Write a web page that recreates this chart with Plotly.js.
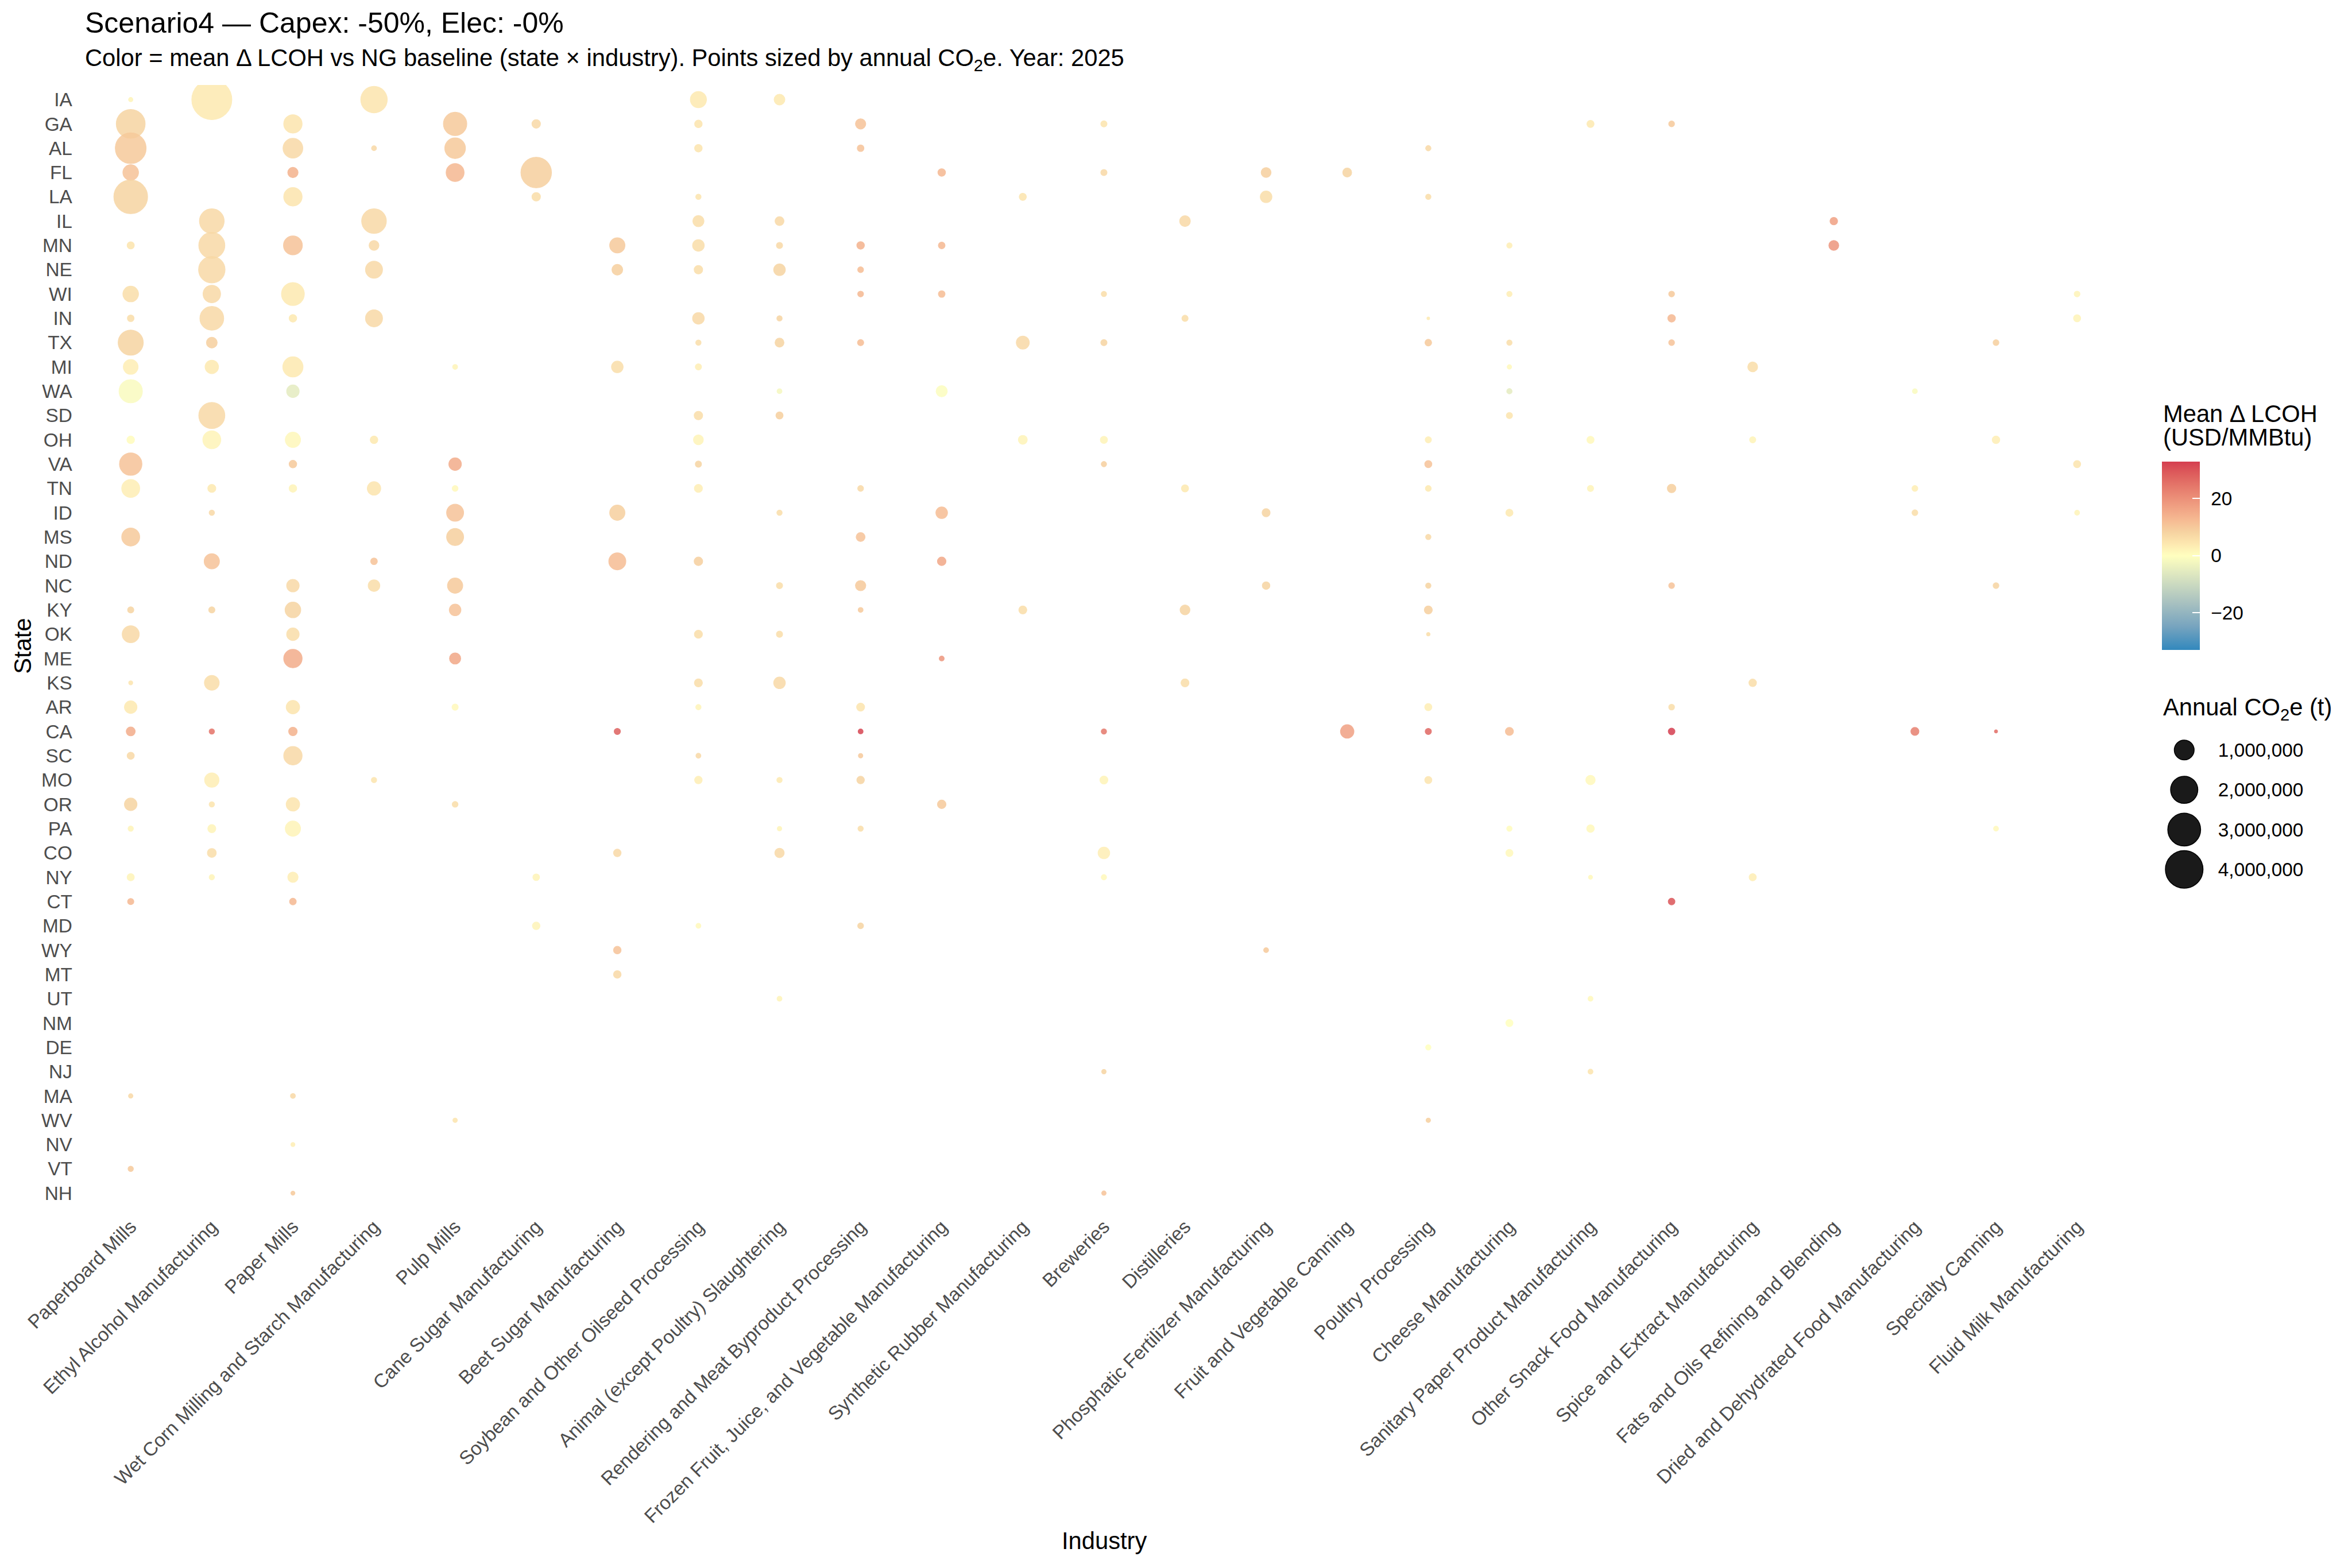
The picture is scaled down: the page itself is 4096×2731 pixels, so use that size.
<!DOCTYPE html>
<html>
<head>
<meta charset="utf-8">
<script src="https://cdn.plot.ly/plotly-3.0.1.min.js"></script>
<style>
html,body{margin:0;padding:0;background:#ffffff;}
#chart{width:4096px;height:2731px;}
</style>
</head>
<body>
<div id="chart"></div>
<script>
// ---------------- DATA ----------------
const states = ['IA','GA','AL','FL','LA','IL','MN','NE','WI','IN','TX','MI','WA','SD','OH','VA','TN','ID','MS','ND','NC','KY','OK','ME','KS','AR','CA','SC','MO','OR','PA','CO','NY','CT','MD','WY','MT','UT','NM','DE','NJ','MA','WV','NV','VT','NH'];

const industries = ['Paperboard Mills','Ethyl Alcohol Manufacturing','Paper Mills','Wet Corn Milling and Starch Manufacturing','Pulp Mills','Cane Sugar Manufacturing','Beet Sugar Manufacturing','Soybean and Other Oilseed Processing','Animal (except Poultry) Slaughtering','Rendering and Meat Byproduct Processing','Frozen Fruit, Juice, and Vegetable Manufacturing','Synthetic Rubber Manufacturing','Breweries','Distilleries','Phosphatic Fertilizer Manufacturing','Fruit and Vegetable Canning','Poultry Processing','Cheese Manufacturing','Sanitary Paper Product Manufacturing','Other Snack Food Manufacturing','Spice and Extract Manufacturing','Fats and Oils Refining and Blending','Dried and Dehydrated Food Manufacturing','Specialty Canning','Fluid Milk Manufacturing'];

// index into industries
const pointIndustry = [
 0,0,0,0,0,0,0,0,0,0,0,0,0,0,0,0,0,0,0,0,0,0,0,0,0,0,0,
 1,1,1,1,1,1,1,1,1,1,1,1,1,1,1,1,1,1,1,1,1,
 2,2,2,2,2,2,2,2,2,2,2,2,2,2,2,2,2,2,2,2,2,2,2,2,2,2,
 3,3,3,3,3,3,3,3,3,3,3,
 4,4,4,4,4,4,4,4,4,4,4,4,4,4,
 5,5,5,5,5,
 6,6,6,6,6,6,6,6,6,
 7,7,7,7,7,7,7,7,7,7,7,7,7,7,7,7,7,7,7,7,7,
 8,8,8,8,8,8,8,8,8,8,8,8,8,8,8,8,
 9,9,9,9,9,9,9,9,9,9,9,9,9,9,9,9,
 10,10,10,10,10,10,10,10,
 11,11,11,11,
 12,12,12,12,12,12,12,12,12,12,12,12,
 13,13,13,13,13,
 14,14,14,14,14,
 15,15,
 16,16,16,16,16,16,16,16,16,16,16,16,16,16,16,16,
 17,17,17,17,17,17,17,17,17,17,17,
 18,18,18,18,18,18,18,18,
 19,19,19,19,19,19,19,19,19,
 20,20,20,20,
 21,21,
 22,22,22,22,
 23,23,23,23,23,
 24,24,24,24
];

const pointState = [
 'IA','GA','AL','FL','LA','MN','WI','IN','TX','MI','WA','OH','VA','TN','MS','KY','OK','KS','AR','CA','SC','OR','PA','NY','CT','MA','VT',
 'IA','IL','MN','NE','WI','IN','TX','MI','SD','OH','TN','ID','ND','KY','KS','CA','MO','OR','PA','CO','NY',
 'GA','AL','FL','LA','MN','WI','IN','MI','WA','OH','VA','TN','NC','KY','OK','ME','AR','CA','SC','OR','PA','NY','CT','MA','NV','NH',
 'IA','AL','IL','MN','NE','IN','OH','TN','ND','NC','MO',
 'GA','AL','FL','MI','VA','TN','ID','MS','NC','KY','ME','AR','OR','WV',
 'GA','FL','LA','NY','MD',
 'MN','NE','MI','ID','ND','CA','CO','WY','MT',
 'IA','GA','AL','LA','IL','MN','NE','IN','TX','MI','SD','OH','VA','TN','ND','OK','KS','AR','SC','MO','MD',
 'IA','IL','MN','NE','IN','TX','WA','SD','ID','NC','OK','KS','MO','PA','CO','UT',
 'GA','AL','MN','NE','WI','TX','TN','MS','NC','KY','AR','CA','SC','MO','PA','MD',
 'FL','MN','WI','WA','ID','ND','ME','OR',
 'LA','TX','OH','KY',
 'GA','FL','WI','TX','OH','VA','CA','MO','CO','NY','NJ','NH',
 'IL','IN','TN','KY','KS',
 'FL','LA','ID','NC','WY',
 'FL','CA',
 'AL','LA','IN','TX','OH','VA','TN','MS','NC','KY','OK','AR','CA','MO','DE','WV',
 'MN','WI','TX','MI','WA','SD','ID','CA','PA','CO','NM',
 'GA','OH','TN','MO','PA','NY','UT','NJ',
 'GA','WI','IN','TX','TN','NC','AR','CA','CT',
 'MI','OH','KS','NY',
 'IL','MN',
 'WA','TN','ID','CA',
 'TX','OH','NC','CA','PA',
 'WI','IN','VA','ID'
];

// annual CO2e (t)
const pointCO2 = [
 16000,2280000,2620000,585000,3180000,83000,585000,68000,1690000,515000,1440000,97000,1320000,805000,805000,55000,712000,12500,349000,150000,83000,349000,34000,83000,55000,18000,34000,
 4570000,1630000,1830000,1890000,758000,1500000,241000,411000,1830000,805000,114000,34000,554000,55000,515000,34000,482000,34000,114000,150000,34000,
 848000,994000,216000,848000,897000,1377000,97000,1048000,349000,554000,97000,97000,349000,589000,349000,848000,411000,133000,848000,411000,554000,216000,68000,26000,12500,12500,
 1894000,26000,1629000,195000,712000,712000,97000,411000,68000,293000,34000,
 1440000,1096000,805000,26000,349000,45000,712000,712000,554000,293000,265000,55000,45000,18000,
 133000,2580000,133000,68000,97000,
 554000,241000,293000,554000,712000,55000,97000,97000,97000,
 631000,97000,97000,34000,265000,293000,133000,293000,34000,55000,133000,195000,55000,114000,133000,114000,114000,34000,26000,97000,26000,
 241000,150000,55000,293000,34000,150000,26000,83000,34000,55000,55000,293000,34000,18000,172000,26000,
 216000,68000,97000,45000,45000,55000,45000,150000,216000,26000,114000,26000,18000,97000,34000,45000,
 97000,68000,68000,265000,293000,133000,26000,133000,
 83000,381000,150000,114000,
 55000,55000,34000,55000,83000,34000,34000,114000,293000,34000,18000,18000,
 241000,55000,83000,195000,114000,
 195000,293000,114000,97000,26000,
 150000,411000,
 34000,34000,1200,68000,55000,83000,45000,34000,34000,114000,7000,83000,55000,83000,34000,18000,
 34000,34000,34000,18000,34000,55000,83000,114000,34000,83000,83000,
 83000,83000,55000,172000,97000,12500,26000,26000,
 45000,45000,97000,45000,133000,45000,45000,68000,68000,
 195000,55000,97000,83000,
 97000,195000,
 26000,45000,45000,114000,
 45000,97000,45000,3500,26000,
 45000,83000,83000,26000
];

// mean delta LCOH vs NG baseline (USD/MMBtu)
const pointDeltaLCOH = [
 2,8,10,11,8,5,6,6,8,3,-1,0.5,11,3,10,8,7,5,4,15,7,8,2,2,13,7,10,
 4,7,7,7,7,7,9,4,7,2,4,7,11,8,6,25,3,5,2,6,2,
 5,7,14,5,11,4,4,4,-5,1.5,10,2,7,8,6,15,5,14,7,5,2,3,13,7,3,10,
 5,7,7,7,7,7,4,5,11,6,5,
 10,10,13,2,15,1,11,9,10,11,16,1,6,5,
 7,9,6,2,2,
 10,9,6,9,12,28,7,11,7,
 4,5,5,5,6,6,6,7,6,3,6,2,8,3,9,6,6,2,7,3,1,
 4,7,7,8,8,8,-2,9,6,6,6,7,4,2,7,2,
 11,11,14,12,13,12,7,11,10,10,5,32,10,8,6,8,
 13,13,12,-0.5,12,16,19,10,
 5,7,2,6,
 5,7,6,8,2,9,24,2,3,1,8,11,
 7,6,4,8,6,
 9,6,8,8,10,
 8,17,
 7,6,4,10,3,11,4,7,8,9,6,3,27,5,0,9,
 3,3,6,1,-5,5,4,12,0.5,1,0,
 4,1,2,1,1,1,1,5,
 10,10,13,11,9,11,6,33,30,
 6,2,6,3,
 17,19,
 -1,3,6,23,
 9,3,8,26,1,
 2,2,5,2
];

const colorLimits = [-33, 33];
const colorbarTickValues = [-20, 0, 20];
const sizeLegendValues = [1000000, 2000000, 3000000, 4000000];
const sizeLegendLabels = ['1,000,000', '2,000,000', '3,000,000', '4,000,000'];

// ---------------- STYLE / SCALES ----------------
const K = 0.91; // overall scale vs reference
const FONT = 'Liberation Sans, Arial, Helvetica, sans-serif';
// area-type size scale: diameter grows with sqrt(value)
function sizeScale(v) { return K * (4 + 34 * Math.sqrt(v / 1e6)); }

// diverging scale (blue - light yellow - red), Lab-interpolated stops
const colorscale = [
  [0.0, '#3288BD'], [0.125, '#77A4BF'], [0.25, '#A8C1C0'], [0.375, '#D4E0C0'],
  [0.5, '#FFFFBF'], [0.5625, '#FDE8B0'], [0.625, '#F6D3A1'], [0.6875, '#F6BB93'],
  [0.75, '#F1A485'], [0.8125, '#EB8D77'], [0.875, '#E47569'], [0.9375, '#DD5C5C'],
  [1.0, '#D53E4F']
];

const W = 4096, H = 2731;
function px2x(p) { return p / W; }
function px2y(p) { return 1 - p / H; }

const colorbarBase = {
  x: px2x(3765), xanchor: 'left',
  y: px2y(803.5), yanchor: 'top',
  len: 328, lenmode: 'pixels',
  thickness: 66, thicknessmode: 'pixels',
  xpad: 0, ypad: 0,
  outlinewidth: 0,
  tickmode: 'array', tickvals: colorbarTickValues,
  tickfont: { family: FONT, size: 33.4, color: '#000000' },
  title: { text: '' }
};

// main bubbles; colorbar with labels (transparent outside ticks give the label gap)
const mainTrace = {
  type: 'scatter', mode: 'markers',
  x: pointIndustry.map(i => industries[i]),
  y: pointState,
  xaxis: 'x', yaxis: 'y',
  hoverinfo: 'skip', showlegend: false, cliponaxis: true,
  marker: {
    size: pointCO2.map(sizeScale),
    sizemode: 'diameter',
    color: pointDeltaLCOH,
    colorscale: colorscale,
    cmin: colorLimits[0], cmax: colorLimits[1],
    opacity: 0.85,
    line: { width: 1.2, color: pointDeltaLCOH, colorscale: colorscale, cmin: colorLimits[0], cmax: colorLimits[1] },
    showscale: true,
    colorbar: Object.assign({}, colorbarBase, {
      ticks: 'outside', ticklen: 13, tickwidth: 1, tickcolor: 'rgba(0,0,0,0)'
    })
  }
};

// same data, invisible marks: only supplies the white inside tick marks on the bar
const colorbarTickTrace = {
  type: 'scatter', mode: 'markers',
  x: pointIndustry.map(i => industries[i]),
  y: pointState,
  xaxis: 'x', yaxis: 'y',
  hoverinfo: 'skip', showlegend: false,
  marker: {
    size: 1, opacity: 0,
    color: pointDeltaLCOH,
    colorscale: colorscale,
    cmin: colorLimits[0], cmax: colorLimits[1],
    showscale: true,
    colorbar: Object.assign({}, colorbarBase, {
      ticks: 'inside', ticklen: 13, tickwidth: 2, tickcolor: '#ffffff',
      showticklabels: false
    })
  }
};

const sizeLegendTrace = {
  type: 'scatter', mode: 'markers',
  x: sizeLegendValues.map(() => 0),
  y: sizeLegendLabels,
  xaxis: 'x2', yaxis: 'y2',
  hoverinfo: 'skip', showlegend: false, cliponaxis: false,
  marker: {
    size: sizeLegendValues.map(sizeScale),
    opacity: 1,
    color: '#1a1a1a',
    line: { width: 1.5, color: '#000000' }
  }
};

const axisCommon = {
  showgrid: false, zeroline: false, showline: false, ticks: '',
  automargin: false, fixedrange: true
};

const layout = {
  width: W, height: H,
  margin: { l: 0, r: 0, t: 0, b: 0, pad: 0 },
  paper_bgcolor: '#ffffff', plot_bgcolor: 'rgba(0,0,0,0)',
  font: { family: FONT, color: '#000000' },
  showlegend: false,
  hovermode: false,
  xaxis: Object.assign({}, axisCommon, {
    domain: [px2x(142.9), px2x(3702)],
    type: 'category', categoryorder: 'array', categoryarray: industries,
    tickmode: 'array', tickvals: industries, ticktext: industries,
    range: [-0.6, industries.length - 0.4],
    tickangle: -45,
    tickfont: { family: FONT, size: 33.4, color: '#4D4D4D' },
    ticklabelstandoff: 6,
    anchor: 'y'
  }),
  yaxis: Object.assign({}, axisCommon, {
    domain: [px2y(2103.5), px2y(148.1)],
    type: 'category', categoryorder: 'array', categoryarray: states,
    tickmode: 'array', tickvals: states, ticktext: states,
    range: [states.length - 0.4, -0.6],
    tickfont: { family: FONT, size: 33.4, color: '#4D4D4D' },
    ticklabelstandoff: 16,
    anchor: 'x'
  }),
  xaxis2: Object.assign({}, axisCommon, {
    domain: [px2x(3763.8), px2x(3843.8)],
    range: [-1, 1], showticklabels: false, anchor: 'y2'
  }),
  yaxis2: Object.assign({}, axisCommon, {
    domain: [px2y(1548.85), px2y(1271.65)],
    type: 'category', categoryorder: 'array', categoryarray: sizeLegendLabels,
    tickmode: 'array', tickvals: sizeLegendLabels, ticktext: sizeLegendLabels,
    range: [sizeLegendLabels.length - 0.5, -0.5],
    side: 'right', anchor: 'x2',
    tickfont: { family: FONT, size: 33.4, color: '#000000' },
    ticklabelstandoff: 18
  }),
  annotations: [
    { text: 'Scenario4 — Capex: -50%, Elec: -0%', x: px2x(146.2), y: px2y(40.3), xref: 'paper', yref: 'paper',
      xanchor: 'left', yanchor: 'middle', showarrow: false, font: { family: FONT, size: 50, color: '#000000' } },
    { text: 'Color = mean Δ LCOH vs NG baseline (state × industry). Points sized by annual CO<sub>2</sub>e. Year: 2025',
      x: px2x(146.2), y: px2y(103.9), xref: 'paper', yref: 'paper',
      xanchor: 'left', yanchor: 'middle', showarrow: false, font: { family: FONT, size: 41.7, color: '#000000' } },
    { text: 'Industry', x: px2x(1922.5), y: px2y(2683.5), xref: 'paper', yref: 'paper',
      xanchor: 'center', yanchor: 'middle', showarrow: false, font: { family: FONT, size: 41.7, color: '#000000' } },
    { text: 'State', x: px2x(40), y: px2y(1125.7), xref: 'paper', yref: 'paper', textangle: -90,
      xanchor: 'center', yanchor: 'middle', showarrow: false, font: { family: FONT, size: 41.7, color: '#000000' } },
    { text: 'Mean Δ LCOH', x: px2x(3765), y: px2y(720.5), xref: 'paper', yref: 'paper',
      xanchor: 'left', yanchor: 'middle', showarrow: false, font: { family: FONT, size: 41.7, color: '#000000' } },
    { text: '(USD/MMBtu)', x: px2x(3765), y: px2y(761.5), xref: 'paper', yref: 'paper',
      xanchor: 'left', yanchor: 'middle', showarrow: false, font: { family: FONT, size: 41.7, color: '#000000' } },
    { text: 'Annual CO<sub>2</sub>e (t)', x: px2x(3765), y: px2y(1234), xref: 'paper', yref: 'paper',
      xanchor: 'left', yanchor: 'middle', showarrow: false, font: { family: FONT, size: 41.7, color: '#000000' } }
  ]
};

Plotly.newPlot('chart', [mainTrace, colorbarTickTrace, sizeLegendTrace], layout, { staticPlot: true, displayModeBar: false });
</script>
</body>
</html>
